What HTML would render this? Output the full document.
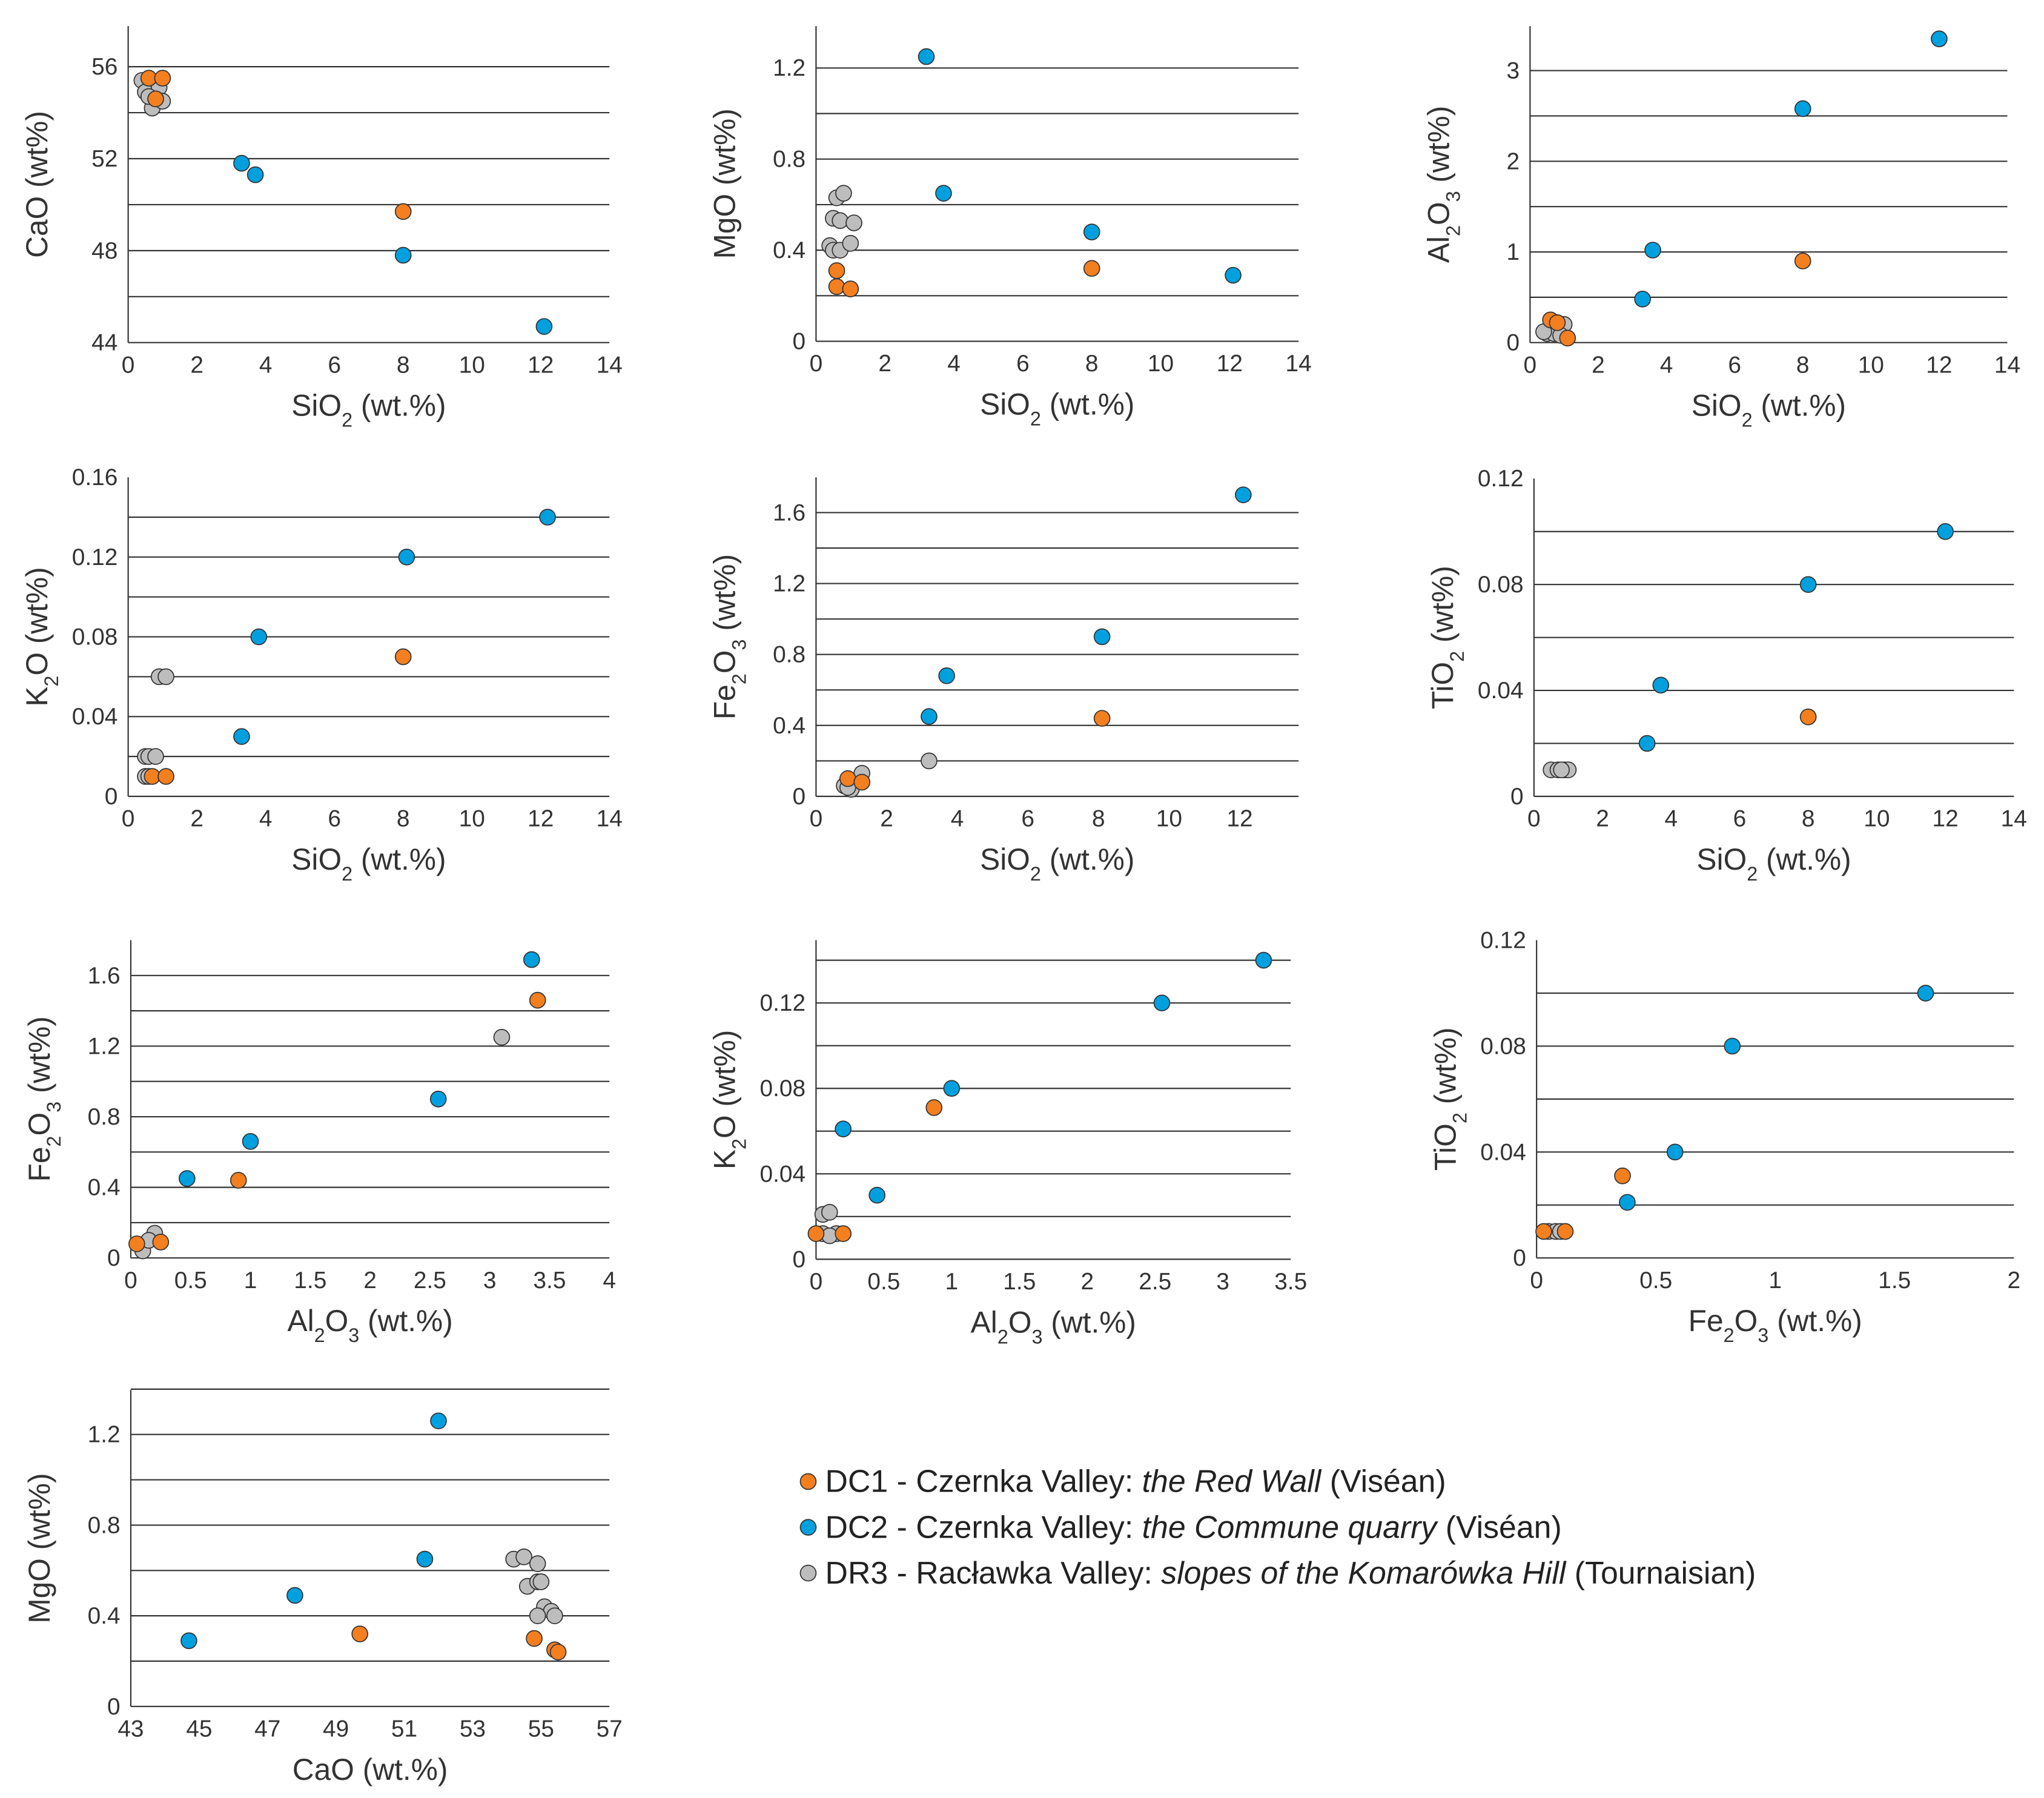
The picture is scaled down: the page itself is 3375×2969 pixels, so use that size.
<!DOCTYPE html>
<html><head><meta charset="utf-8">
<style>
html,body{margin:0;padding:0;background:#fff;}
svg{display:block;font-family:"Liberation Sans",Arial,sans-serif;}
</style></head>
<body>
<svg id="fig" width="3375" height="2969" viewBox="0 0 1563 1375" xmlns="http://www.w3.org/2000/svg">
<rect width="1563" height="1375" fill="#fff"/>
<g font-size="24" fill="#222">
  <g><circle cx="618" cy="1133" r="6" fill="#f47f1f" stroke="#333" stroke-width="0.8"/><text x="631" y="1141">DC1 - Czernka Valley: <tspan font-style="italic">the Red Wall</tspan> (Viséan)</text></g>
  <g><circle cx="618" cy="1168" r="6" fill="#00a0de" stroke="#333" stroke-width="0.8"/><text x="631" y="1176">DC2 - Czernka Valley: <tspan font-style="italic">the Commune quarry</tspan> (Viséan)</text></g>
  <g><circle cx="618" cy="1203" r="6" fill="#bdbdbd" stroke="#333" stroke-width="0.8"/><text x="631" y="1211">DR3 - Racławka Valley: <tspan font-style="italic">slopes of the Komarówka Hill</tspan> (Tournaisian)</text></g>
</g>
</svg>
<script>
// ---- data arrays ----
const p1Orange=[[0.6,55.5],[1.0,55.5],[0.8,54.6],[8.0,49.7]];
const p1Blue=[[3.3,51.8],[3.7,51.3],[8.0,47.8],[12.1,44.7]];
const p1Gray=[[0.4,55.4],[0.5,54.9],[0.7,54.2],[0.9,55.1],[1.0,54.5],[0.6,54.7]];
const p2Orange=[[0.6,0.31],[0.6,0.24],[1.0,0.23],[8.0,0.32]];
const p2Blue=[[3.2,1.25],[3.7,0.65],[8.0,0.48],[12.1,0.29]];
const p2Gray=[[0.6,0.63],[0.8,0.65],[0.5,0.54],[0.7,0.53],[1.1,0.52],[0.4,0.42],[0.5,0.40],[0.7,0.40],[1.0,0.43]];
const p3Orange=[[8,0.9],[0.6,0.25],[0.8,0.22],[1.1,0.05]];
const p3Blue=[[12,3.35],[8,2.58],[3.6,1.02],[3.3,0.48]];
const p3Gray=[[0.5,0.1],[0.7,0.1],[1.0,0.2],[0.9,0.08],[0.4,0.12]];
const p4Orange=[[8.0,0.07],[0.7,0.01],[1.1,0.01]];
const p4Blue=[[12.2,0.14],[8.1,0.12],[3.8,0.08],[3.3,0.03]];
const p4Gray=[[0.9,0.06],[1.1,0.06],[0.5,0.02],[0.6,0.02],[0.8,0.02],[0.5,0.01],[0.6,0.01]];
const p5Orange=[[8.1,0.44],[0.9,0.1],[1.3,0.08]];
const p5Blue=[[12.1,1.7],[8.1,0.9],[3.7,0.68],[3.2,0.45]];
const p5Gray=[[3.2,0.2],[1.3,0.13],[0.8,0.06],[1.0,0.04],[0.9,0.05]];
const p6Orange=[[8,0.03]];
const p6Blue=[[12,0.1],[8,0.08],[3.7,0.042],[3.3,0.02]];
const p6Gray=[[0.5,0.01],[0.7,0.01],[0.9,0.01],[1.0,0.01],[0.8,0.01]];
const p7Orange=[[3.4,1.46],[0.9,0.44],[0.05,0.08],[0.25,0.09]];
const p7Blue=[[3.35,1.69],[2.57,0.9],[1.0,0.66],[0.47,0.45]];
const p7Gray=[[3.1,1.25],[0.2,0.14],[0.1,0.04],[0.15,0.1]];
const p8Orange=[[0.87,0.071],[0.0,0.012],[0.2,0.012]];
const p8Blue=[[3.3,0.14],[2.55,0.12],[1.0,0.08],[0.2,0.061],[0.45,0.03]];
const p8Gray=[[0.05,0.021],[0.1,0.022],[0.05,0.012],[0.15,0.012],[0.1,0.011]];
const p9Orange=[[0.36,0.031],[0.03,0.01],[0.12,0.01]];
const p9Blue=[[1.63,0.1],[0.82,0.08],[0.58,0.04],[0.38,0.021]];
const p9Gray=[[0.05,0.01],[0.08,0.01],[0.1,0.01]];
const p10Orange=[[49.7,0.32],[54.8,0.3],[55.4,0.25],[55.5,0.24]];
const p10Blue=[[52.0,1.26],[51.6,0.65],[47.8,0.49],[44.7,0.29]];
const p10Gray=[[54.2,0.65],[54.5,0.66],[54.9,0.63],[54.6,0.53],[54.9,0.55],[55.0,0.55],[55.1,0.44],[55.3,0.42],[55.4,0.4],[54.9,0.4]];
const xTicksSi=[0,2,4,6,8,10,12,14];
const xTicksSi12=[0,2,4,6,8,10,12];
const xTicksAl4=[0,0.5,1,1.5,2,2.5,3,3.5,4];
const xTicksAl35=[0,0.5,1,1.5,2,2.5,3,3.5];
const xTicksFe=[0,0.5,1,1.5,2];
const xTicksCa=[43,45,47,49,51,53,55,57];
const yTicksCaO=[44,48,52,56];
const yTicksMgO=[0,0.4,0.8,1.2];
const yTicksAl=[0,1,2,3];
const yTicksK=[0,0.04,0.08,0.12,0.16];
const yTicksK2=[0,0.04,0.08,0.12];
const yTicksFe=[0,0.4,0.8,1.2,1.6];
const yTicksTi=[0,0.04,0.08,0.12];

const NS="http://www.w3.org/2000/svg";
const svg=document.getElementById('fig');
function el(t,a,p){const e=document.createElementNS(NS,t);for(const k in a)e.setAttribute(k,a[k]);(p||svg).appendChild(e);return e;}

const panels=[
 {n:'cao-vs-sio2',x0:98,x1:466,xmin:0,xmax:14,yb:262,yt:51,ymin:44,ymax:56,top:20,gs:2,gmax:56,xt:xTicksSi,yt2:yTicksCaO,xl:['SiO','2',' (wt.%)'],yl:['CaO','',' (wt%)'],d:[p1Orange,p1Blue,p1Gray],yd:0},
 {n:'mgo-vs-sio2',x0:624,x1:993,xmin:0,xmax:14,yb:261,yt:52,ymin:0,ymax:1.2,top:20,gs:0.2,gmax:1.2,xt:xTicksSi,yt2:yTicksMgO,xl:['SiO','2',' (wt.%)'],yl:['MgO','',' (wt%)'],d:[p2Orange,p2Blue,p2Gray],yd:1},
 {n:'al2o3-vs-sio2',x0:1170,x1:1535,xmin:0,xmax:14,yb:262,yt:54,ymin:0,ymax:3,top:20,gs:0.5,gmax:3,xt:xTicksSi,yt2:yTicksAl,xl:['SiO','2',' (wt.%)'],yl:['Al','2','O','3',' (wt%)'],d:[p3Orange,p3Blue,p3Gray],yd:0},
 {n:'k2o-vs-sio2',x0:98,x1:466,xmin:0,xmax:14,yb:609,yt:365,ymin:0,ymax:0.16,top:365,gs:0.02,gmax:0.14,xt:xTicksSi,yt2:yTicksK,xl:['SiO','2',' (wt.%)'],yl:['K','2','O','',' (wt%)'],d:[p4Orange,p4Blue,p4Gray],yd:2},
 {n:'fe2o3-vs-sio2',x0:624,x1:948,xmin:0,xmax:12,yb:609,yt:392,ymin:0,ymax:1.6,top:365,gs:0.2,gmax:1.6,gx:993,xt:xTicksSi12,yt2:yTicksFe,xl:['SiO','2',' (wt.%)'],yl:['Fe','2','O','3',' (wt%)'],d:[p5Orange,p5Blue,p5Gray],yd:1},
 {n:'tio2-vs-sio2',x0:1173,x1:1540,xmin:0,xmax:14,yb:609,yt:366,ymin:0,ymax:0.12,top:366,gs:0.02,gmax:0.1,xt:xTicksSi,yt2:yTicksTi,xl:['SiO','2',' (wt.%)'],yl:['TiO','2',' (wt%)'],d:[p6Orange,p6Blue,p6Gray],yd:2},
 {n:'fe2o3-vs-al2o3',x0:100,x1:466,xmin:0,xmax:4,yb:962,yt:746,ymin:0,ymax:1.6,top:719,gs:0.2,gmax:1.6,xt:xTicksAl4,yt2:yTicksFe,xl:['Al','2','O','3',' (wt.%)'],yl:['Fe','2','O','3',' (wt%)'],d:[p7Orange,p7Blue,p7Gray],yd:1},
 {n:'k2o-vs-al2o3',x0:624,x1:987,xmin:0,xmax:3.5,yb:963,yt:767,ymin:0,ymax:0.12,top:719,gs:0.02,gmax:0.14,xt:xTicksAl35,yt2:yTicksK2,xl:['Al','2','O','3',' (wt.%)'],yl:['K','2','O','',' (wt%)'],d:[p8Orange,p8Blue,p8Gray],yd:2},
 {n:'tio2-vs-fe2o3',x0:1175,x1:1540,xmin:0,xmax:2,yb:962,yt:719,ymin:0,ymax:0.12,top:719,gs:0.02,gmax:0.1,xt:xTicksFe,yt2:yTicksTi,xl:['Fe','2','O','3',' (wt.%)'],yl:['TiO','2',' (wt%)'],d:[p9Orange,p9Blue,p9Gray],yd:2},
 {n:'mgo-vs-cao',x0:100,x1:466,xmin:43,xmax:57,yb:1305,yt:1097,ymin:0,ymax:1.2,top:1063,gs:0.2,gmax:1.4,xt:xTicksCa,yt2:yTicksMgO,xl:['CaO','',' (wt.%)'],yl:['MgO','',' (wt%)'],d:[p10Orange,p10Blue,p10Gray],yd:1}
];
const colors=['#f47f1f','#00a0de','#bdbdbd'];
const sNames=['dc1','dc2','dr3'];

function addLabel(parent,parts,attrs){
  const t=el('text',attrs,parent);
  parts.forEach((s,i)=>{
    if(!s)return;
    const ts=el('tspan',{},t);
    if(i%2===1){ts.setAttribute('font-size','15');ts.setAttribute('baseline-shift','sub');}
    ts.textContent=s;
  });
  return t;
}

panels.forEach(p=>{
  const g=el('g',{});
  
  
  const sx=v=>p.x0+(v-p.xmin)/(p.xmax-p.xmin)*(p.x1-p.x0);
  const sy=v=>p.yb-(v-p.ymin)/(p.ymax-p.ymin)*(p.yb-p.yt);
  const gx=p.gx||p.x1;
  for(let v=p.ymin;v<=p.gmax+1e-9;v+=p.gs){
    const y=sy(v);
    const l=el('line',{x1:p.x0,x2:gx,y1:y,y2:y,stroke:'#333','stroke-width':1},g);
    
    
  }
  const ax=el('line',{x1:p.x0,x2:p.x0,y1:p.top,y2:p.yb,stroke:'#333','stroke-width':1},g);
  
  
  p.xt.forEach(v=>{
    const t=el('text',{x:sx(v),y:p.yb+23,'font-size':18,'text-anchor':'middle',fill:'#333'},g);
    t.textContent=String(v);
    
    
  });
  p.yt2.forEach(v=>{
    const t=el('text',{x:p.x0-8,y:sy(v)+6,'font-size':18,'text-anchor':'end',fill:'#333'},g);
    t.textContent=v===0?'0':v.toFixed(p.yd);
    
    
  });
  const xlab=addLabel(g,p.xl,{x:(p.x0+Math.max(p.x1,gx))/2,y:p.yb+56,'font-size':23,'text-anchor':'middle',fill:'#333'});
  
  
  const cy=(p.top+p.yb)/2, cx=p.x0-62;
  const ylab=addLabel(g,p.yl,{x:cx,y:cy,'font-size':23,'text-anchor':'middle',fill:'#333',transform:`rotate(-90 ${cx} ${cy})`});
  
  
  [2,0,1].forEach(si=>{
    p.d[si].forEach(pt=>{
      const c=el('circle',{cx:sx(pt[0]),cy:sy(pt[1]),r:6,fill:colors[si],stroke:'#333','stroke-width':0.8},g);
      
      
    });
  });
});
</script>
</body></html>
